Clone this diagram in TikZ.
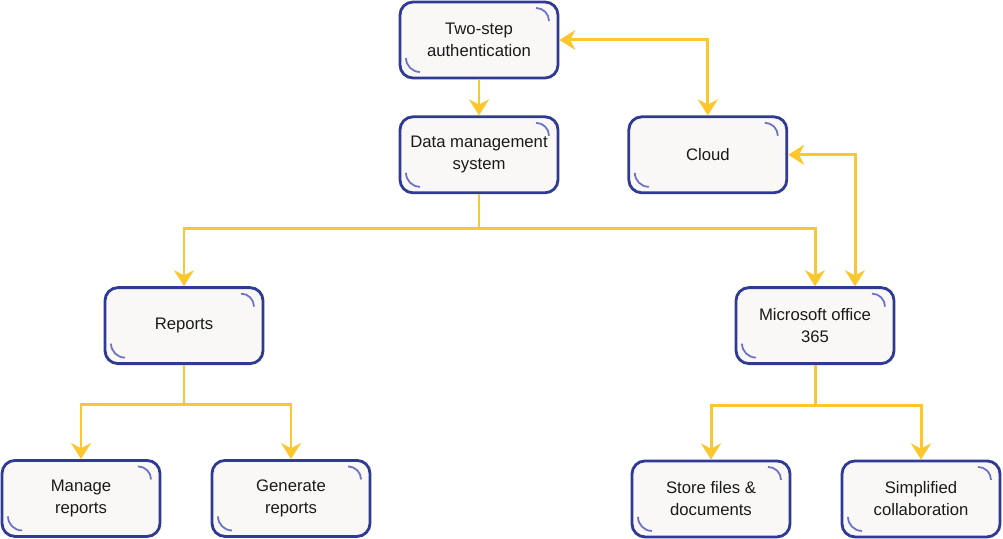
\documentclass[tikz,border=0pt]{standalone}
\usepackage{fontspec}
\setmainfont{Liberation Sans}
\usetikzlibrary{arrows.meta, positioning}
\definecolor{boxline}{HTML}{2F3A94}
\definecolor{boxarc}{HTML}{6C72C6}
\definecolor{boxfill}{HTML}{F9F8F6}
\definecolor{arry}{HTML}{FBC72C}
\definecolor{txt}{HTML}{1A1A1A}

\begin{document}
\begin{tikzpicture}[
  node distance=0.72cm,
  b/.style={rectangle, rounded corners=0.26cm, draw=boxline, line width=1.6pt, fill=boxfill,
    minimum width=3.16cm, minimum height=1.52cm, align=center, text=txt,
    path picture={
      \draw[boxarc, line width=1pt] ([xshift=-0.44cm, yshift=-0.12cm]path picture bounding box.north east)
        arc[start angle=90, end angle=0, radius=0.26cm];
      \draw[boxarc, line width=1pt] ([xshift=0.12cm, yshift=0.40cm]path picture bounding box.south west)
        arc[start angle=180, end angle=270, radius=0.28cm];
    }},
  arr/.style={-{Stealth[length=0.32cm, width=0.4cm]}, draw=arry, line width=1.7pt},
  arr2/.style={{Stealth[length=0.32cm, width=0.4cm]}-{Stealth[length=0.32cm, width=0.4cm]}, draw=arry, line width=1.7pt},
  font=\fontsize{9.5}{12.5}\selectfont
]
\useasboundingbox (0,0) rectangle (20.06,-10.78);
\node[b] (two) at (9.58,-0.80) {Two-step\\authentication};
\node[b, below=of two] (dms) {Data management\\system};
\node[b, right=1.36cm of dms] (cloud) {Cloud};
\node[b, below=1.84cm of dms, xshift=-5.9cm] (rep) {Reports};
\node[b, below=1.84cm of dms, xshift=6.72cm] (ms) {Microsoft office\\365};
\node[b, below=1.88cm of rep, xshift=-2.06cm] (man) {Manage\\reports};
\node[b, below=1.88cm of rep, xshift=2.14cm] (gen) {Generate\\reports};
\node[b, below=1.89cm of ms, xshift=-2.08cm] (store) {Store files \&\\documents};
\node[b, below=1.89cm of ms, xshift=2.12cm] (simp) {Simplified\\collaboration};
\coordinate[below=0.68cm of dms] (j1);
\coordinate[below=0.78cm of rep] (j2);
\coordinate[below=0.8cm of ms] (j3);
\draw[arr] (two) -- (dms);
\draw[arr2] (two.east) -| (cloud.north);
\draw[arr2] (cloud.east) -| ([xshift=0.8cm]ms.north);
\draw[arr] (dms.south) -- (j1) -| (rep.north);
\draw[arr] (j1) -| (ms.north);
\draw[arr] (rep.south) -- (j2) -| (man.north);
\draw[arr] (j2) -| (gen.north);
\draw[arr] (ms.south) -- (j3) -| (store.north);
\draw[arr] (j3) -| (simp.north);
\end{tikzpicture}
\end{document}
